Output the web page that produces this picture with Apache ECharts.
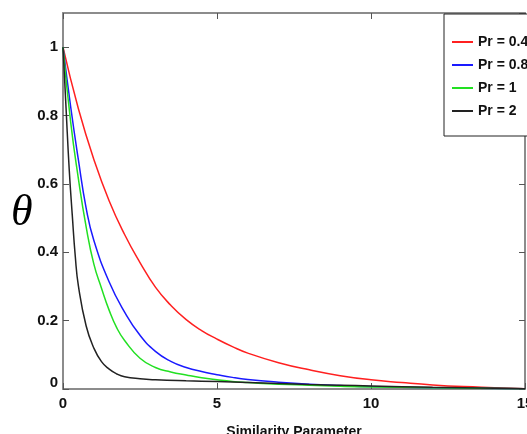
<!DOCTYPE html>
<html><head><meta charset="utf-8">
<script src="https://cdn.jsdelivr.net/npm/echarts@6/dist/echarts.min.js"></script>
<style>html,body{margin:0;padding:0;background:#fff}#c{width:527px;height:434px}</style>
</head><body><div id="c"></div>
<script>
const seriesNames = ['Pr = 0.4', 'Pr = 0.8', 'Pr = 1', 'Pr = 2'];
const xTicks = [0, 5, 10, 15];
const yTicks = [0, 0.2, 0.4, 0.6, 0.8, 1];

const xRed = [0,0.5,1,1.5,2,2.5,3,3.5,4,4.5,5,5.5,6,7,8,9,10,11,12,13,14,15];
const yRed = [1.0,0.82,0.672,0.55,0.452,0.37,0.298,0.245,0.203,0.171,0.146,0.124,0.105,0.077,0.056,0.039,0.027,0.019,0.012,0.007,0.004,0.001];

const xBlue = [0,0.25,0.5,0.75,1,1.5,2,2.5,3,3.5,4,4.5,5,5.5,6,7,8,9,10,12,15];
const yBlue = [1,0.825,0.67,0.53,0.435,0.313,0.225,0.157,0.11,0.081,0.063,0.051,0.042,0.034,0.028,0.02,0.014,0.01,0.007,0.004,0.001];

const xGreen = [0,0.25,0.5,0.75,1,1.25,1.5,1.75,2,2.5,3,3.5,4,4.5,5,5.5,6,7,8,9,10,12,15];
const yGreen = [1,0.78,0.615,0.475,0.366,0.295,0.23,0.178,0.142,0.09,0.063,0.05,0.041,0.033,0.027,0.022,0.019,0.014,0.011,0.008,0.006,0.004,0.001];

const xBlack = [0,0.1,0.2,0.3,0.4,0.5,0.75,1,1.25,1.5,1.75,2,2.5,3,4,5,6,7,8,9,10,12,15];
const yBlack = [1,0.82,0.645,0.51,0.387,0.302,0.185,0.12,0.08,0.058,0.044,0.036,0.03,0.027,0.024,0.022,0.019,0.016,0.013,0.011,0.009,0.005,0.001];

const colors = ['#ff2020', '#1a1aff', '#22e022', '#222222'];
const xs = [xRed, xBlue, xGreen, xBlack];
const ys = [yRed, yBlue, yGreen, yBlack];

const font = "'Liberation Sans', Arial, sans-serif";
const axisGrey = '#8c8c8c';

const chart = echarts.init(document.getElementById('c'), null, {renderer: 'canvas'});

const series = seriesNames.map((n, i) => ({
  name: n, type: 'line', smooth: 0.5,
  showSymbol: false, symbol: 'none',
  lineStyle: {color: colors[i], width: 1.5},
  itemStyle: {color: colors[i]},
  data: xs[i].map((x, j) => [x, ys[i][j]]),
  xAxisIndex: 0, yAxisIndex: 0, z: 3
}));

chart.setOption({
  animation: false,
  backgroundColor: '#fff',
  grid: {left: 63, top: 13, right: 2, bottom: 45, show: false, containLabel: false, outerBoundsMode: 'none'},
  legend: {
    orient: 'vertical', left: 444, top: 14,
    data: seriesNames,
    icon: 'rect', itemWidth: 21, itemHeight: 2, itemGap: 9,
    padding: [21, 40, 18, 8],
    borderColor: '#222', borderWidth: 1, backgroundColor: '#fff',
    textStyle: {fontFamily: font, fontWeight: 'bold', fontSize: 14, color: '#111'}
  },
  graphic: [{
    type: 'text', left: 11, top: 191,
    style: {text: 'θ', font: "italic 44px 'Liberation Serif', 'DejaVu Serif', serif", fill: '#000'}
  }],
  xAxis: [{
    type: 'value', min: 0, max: 15, interval: 5,
    name: 'Similarity Parameter', nameLocation: 'middle', nameGap: 36,
    nameTextStyle: {fontFamily: font, fontWeight: 'bold', fontSize: 14, color: '#111'},
    axisLine: {show: true, onZero: false, lineStyle: {color: axisGrey, width: 2}},
    axisTick: {show: true, inside: true, length: 6, lineStyle: {color: '#555'}},
    axisLabel: {fontFamily: font, fontWeight: 'bold', fontSize: 15, color: '#111', margin: 7,
      formatter: v => xTicks.includes(v) ? String(v) : ''},
    splitLine: {show: false}
  }, {
    type: 'value', position: 'top', min: 0, max: 15, interval: 5,
    axisLine: {show: true, onZero: false, lineStyle: {color: axisGrey, width: 2}},
    axisTick: {show: true, inside: true, length: 6, lineStyle: {color: '#555'}},
    axisLabel: {show: false}, splitLine: {show: false}
  }],
  yAxis: [{
    type: 'value', min: 0, max: 1.1, interval: 0.2,
    axisLine: {show: true, onZero: false, lineStyle: {color: axisGrey, width: 2}},
    axisTick: {show: true, inside: true, length: 6, lineStyle: {color: '#555'}},
    axisLabel: {fontFamily: font, fontWeight: 'bold', fontSize: 15, color: '#111', margin: 5,
      showMaxLabel: false,
      formatter: v => {
        const t = yTicks.find(k => Math.abs(k - v) < 1e-9);
        if (t === undefined) return '';
        return t === 0 ? '{z|0}' : String(t);
      },
      rich: {z: {fontFamily: font, fontWeight: 'bold', fontSize: 15, color: '#111', padding: [0, 0, 12, 0]}}
    },
    splitLine: {show: false}
  }, {
    type: 'value', position: 'right', min: 0, max: 1.1, interval: 0.2,
    axisLine: {show: true, onZero: false, lineStyle: {color: axisGrey, width: 2}},
    axisTick: {show: true, inside: true, length: 6, lineStyle: {color: '#555'}},
    axisLabel: {show: false}, splitLine: {show: false}
  }],
  series: series
});
</script></body></html>
